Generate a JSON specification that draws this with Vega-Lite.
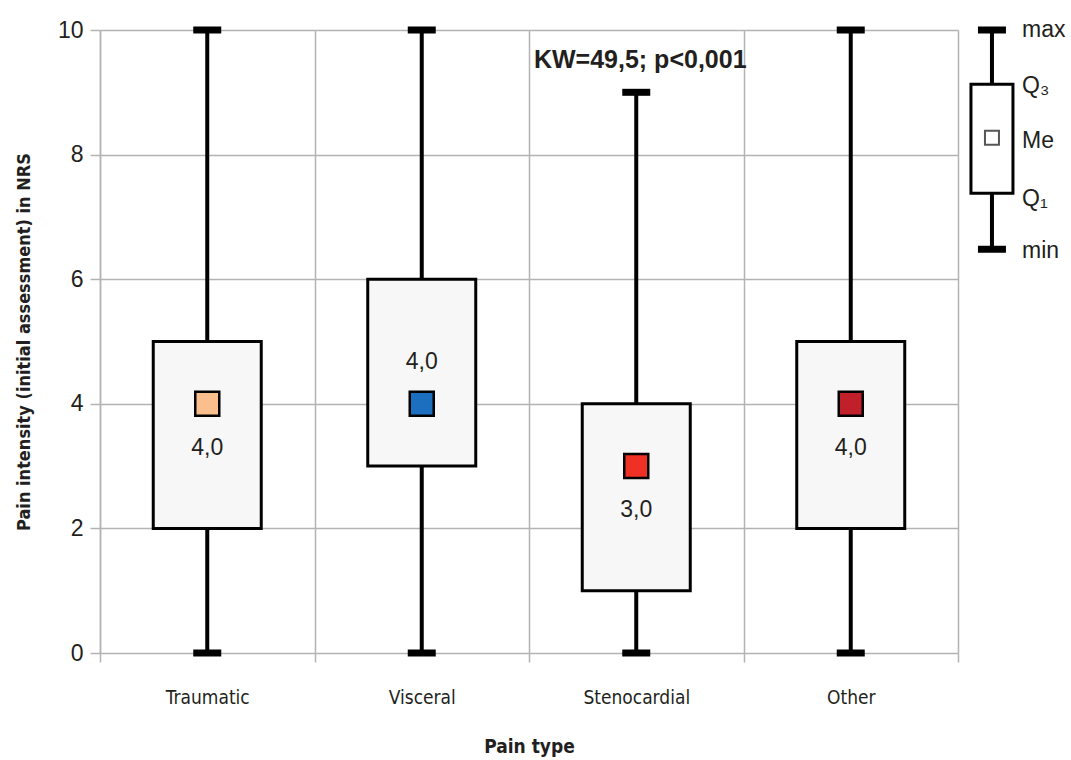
{
  "$schema": "https://vega.github.io/schema/vega-lite/v6.json",
  "padding": {"left": 15, "top": 19, "right": 0, "bottom": 3},
  "spacing": 0,
  "config": {
    "view": {"stroke": null},
    "font": "Liberation Sans",
    "locale": {"number": {"decimal": ",", "thousands": ".", "grouping": [3], "currency": ["", ""]}}
  },
  "datasets": {
    "stats": [
      {"type": "Traumatic", "min": 0, "q1": 2, "median": 4, "q3": 5, "max": 10},
      {"type": "Visceral", "min": 0, "q1": 3, "median": 4, "q3": 6, "max": 10},
      {"type": "Stenocardial", "min": 0, "q1": 1, "median": 3, "q3": 4, "max": 9},
      {"type": "Other", "min": 0, "q1": 2, "median": 4, "q3": 5, "max": 10}
    ],
    "key": [{"min": 6.48, "q1": 7.38, "median": 8.27, "q3": 9.13, "max": 10}],
    "keyLabels": [
      {"label": "max", "v": 10},
      {"label": "Q₃", "v": 9.1},
      {"label": "Me", "v": 8.22},
      {"label": "Q₁", "v": 7.28},
      {"label": "min", "v": 6.45}
    ]
  },
  "hconcat": [
    {
      "width": 858,
      "height": 623,
      "data": {"name": "stats"},
      "encoding": {
        "x": {
          "field": "type",
          "type": "nominal",
          "sort": ["Traumatic", "Visceral", "Stenocardial", "Other"],
          "scale": {"paddingInner": 0, "paddingOuter": 0},
          "axis": {
            "title": "Pain type",
            "tickBand": "extent",
            "grid": true,
            "gridColor": "#b3b3b3",
            "gridWidth": 1.5,
            "domain": false,
            "ticks": true,
            "tickColor": "#b3b3b3",
            "tickWidth": 1.5,
            "tickSize": 9,
            "labelAngle": 0,
            "labelFont": "DejaVu Sans Condensed, Roboto Condensed, Roboto",
            "labelFontSize": 19,
            "labelColor": "#231f20",
            "labelPadding": 26,
            "titleFont": "DejaVu Sans Condensed, Roboto Condensed, Roboto",
            "titleFontSize": 19,
            "titleFontWeight": "bold",
            "titleColor": "#231f20",
            "titlePadding": 30
          }
        }
      },
      "layer": [
        {
          "mark": {"type": "rule", "color": "#000000", "strokeWidth": 4},
          "encoding": {
            "y": {
              "field": "min",
              "type": "quantitative",
              "scale": {"domain": [0, 10]},
              "axis": {
                "title": "Pain intensity (initial assessment) in NRS",
                "values": [0, 2, 4, 6, 8, 10],
                "format": "d",
                "grid": true,
                "gridColor": "#b3b3b3",
                "gridWidth": 1.5,
                "domain": true,
                "domainColor": "#b3b3b3",
                "domainWidth": 1.5,
                "tickColor": "#b3b3b3",
                "tickWidth": 1.5,
                "tickSize": 10,
                "labelFont": "Liberation Sans",
                "labelFontSize": 23,
                "labelColor": "#231f20",
                "labelPadding": 7,
                "titleFont": "DejaVu Sans Condensed, Roboto Condensed, Roboto",
                "titleFontSize": 18,
                "titleFontWeight": "bold",
                "titleColor": "#231f20",
                "titlePadding": 24
              }
            },
            "y2": {"field": "max"}
          }
        },
        {
          "mark": {"type": "tick", "color": "#000000", "size": 28, "thickness": 7, "opacity": 1},
          "encoding": {"y": {"field": "min", "type": "quantitative"}}
        },
        {
          "mark": {"type": "tick", "color": "#000000", "size": 28, "thickness": 7, "opacity": 1},
          "encoding": {"y": {"field": "max", "type": "quantitative"}}
        },
        {
          "mark": {"type": "bar", "size": 108, "fill": "#f7f7f7", "stroke": "#000000", "strokeWidth": 3, "opacity": 1},
          "encoding": {
            "y": {"field": "q1", "type": "quantitative"},
            "y2": {"field": "q3"}
          }
        },
        {
          "mark": {"type": "point", "shape": "square", "filled": true, "size": 576, "stroke": "#000000", "strokeWidth": 2.5, "opacity": 1},
          "encoding": {
            "y": {"field": "median", "type": "quantitative"},
            "fill": {
              "field": "type",
              "type": "nominal",
              "scale": {
                "domain": ["Traumatic", "Visceral", "Stenocardial", "Other"],
                "range": ["#fbbf8e", "#1c6ebf", "#ee3124", "#c1202b"]
              },
              "legend": null
            }
          }
        },
        {
          "transform": [{"filter": "datum.type !== 'Visceral'"}],
          "mark": {"type": "text", "fontSize": 23, "color": "#231f20", "dy": 44, "baseline": "middle"},
          "encoding": {
            "y": {"field": "median", "type": "quantitative"},
            "text": {"field": "median", "type": "quantitative", "format": ".1f"}
          }
        },
        {
          "transform": [{"filter": "datum.type === 'Visceral'"}],
          "mark": {"type": "text", "fontSize": 23, "color": "#231f20", "dy": -42, "baseline": "middle"},
          "encoding": {
            "y": {"field": "median", "type": "quantitative"},
            "text": {"field": "median", "type": "quantitative", "format": ".1f"}
          }
        },
        {
          "data": {"values": [{"label": "KW=49,5; p<0,001"}]},
          "mark": {"type": "text", "fontSize": 25, "fontWeight": "bold", "color": "#231f20", "dx": 4, "baseline": "middle"},
          "encoding": {
            "x": {"datum": "Stenocardial"},
            "y": {"datum": 9.52, "type": "quantitative"},
            "text": {"field": "label", "type": "nominal"}
          }
        }
      ]
    },
    {
      "width": 113,
      "height": 623,
      "layer": [
        {
          "data": {"name": "key"},
          "mark": {"type": "rule", "color": "#000000", "strokeWidth": 4},
          "encoding": {
            "x": {"datum": 0.25, "type": "quantitative", "scale": {"domain": [0, 1]}, "axis": null},
            "y": {"field": "min", "type": "quantitative", "scale": {"domain": [0, 10]}, "axis": null},
            "y2": {"field": "max"}
          }
        },
        {
          "data": {"name": "key"},
          "mark": {"type": "tick", "orient": "horizontal", "color": "#000000", "size": 28, "thickness": 7, "opacity": 1},
          "encoding": {
            "x": {"datum": 0.25, "type": "quantitative"},
            "y": {"field": "min", "type": "quantitative"}
          }
        },
        {
          "data": {"name": "key"},
          "mark": {"type": "tick", "orient": "horizontal", "color": "#000000", "size": 28, "thickness": 7, "opacity": 1},
          "encoding": {
            "x": {"datum": 0.25, "type": "quantitative"},
            "y": {"field": "max", "type": "quantitative"}
          }
        },
        {
          "data": {"name": "key"},
          "mark": {"type": "bar", "width": 42, "fill": "#ffffff", "stroke": "#000000", "strokeWidth": 3, "opacity": 1},
          "encoding": {
            "x": {"datum": 0.25, "type": "quantitative"},
            "y": {"field": "q1", "type": "quantitative"},
            "y2": {"field": "q3"}
          }
        },
        {
          "data": {"name": "key"},
          "mark": {"type": "point", "shape": "square", "filled": true, "fill": "#ffffff", "size": 196, "stroke": "#555555", "strokeWidth": 2, "opacity": 1},
          "encoding": {
            "x": {"datum": 0.25, "type": "quantitative"},
            "y": {"field": "median", "type": "quantitative"}
          }
        },
        {
          "data": {"name": "keyLabels"},
          "mark": {"type": "text", "align": "left", "baseline": "middle", "fontSize": 23, "color": "#231f20"},
          "encoding": {
            "x": {"datum": 0.57, "type": "quantitative"},
            "y": {"field": "v", "type": "quantitative"},
            "text": {"field": "label", "type": "nominal"}
          }
        }
      ]
    }
  ]
}
